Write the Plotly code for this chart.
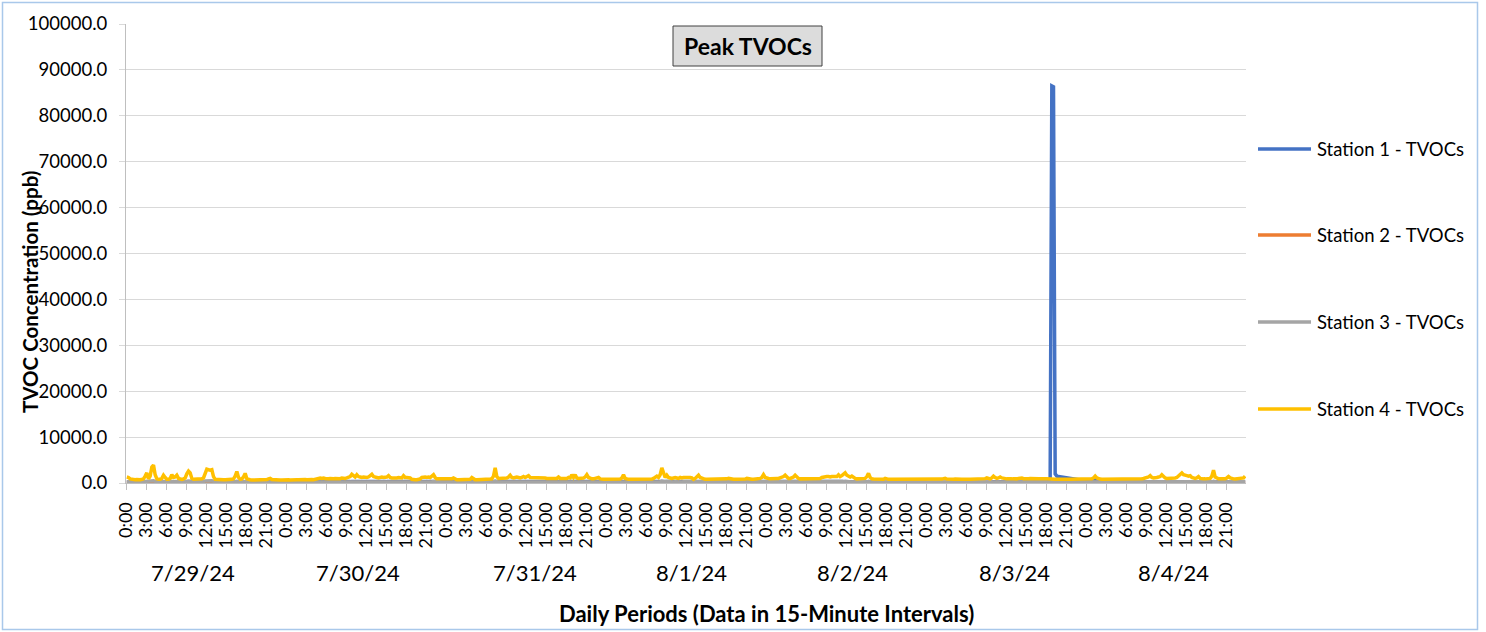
import plotly.graph_objects as go

# ---------------- data (ppb, 15-minute intervals, 96 per day) ----------------
dates = ["7/29/24", "7/30/24", "7/31/24", "8/1/24", "8/2/24", "8/3/24", "8/4/24"]
hour_labels = ["0:00", "3:00", "6:00", "9:00", "12:00", "15:00", "18:00", "21:00"]
series_names = ["Station 1 - TVOCs", "Station 2 - TVOCs", "Station 3 - TVOCs", "Station 4 - TVOCs"]

station1 = [
    200,200,150,150,200,200,150,150,200,200,250,250, 300,250,250,300,300,250,200,200,200,250,250,200,
    200,200,250,250,200,250,250,200,200,200,200,250, 250,300,300,250,200,200,200,200,200,200,250,300,
    300,300,300,300,250,200,200,150,150,150,200,200, 200,200,200,200,200,250,300,250,200,200,200,250,
    200,150,150,150,150,150,150,150,150,150,150,150, 150,150,150,200,200,150,150,150,150,150,150,150,
    150,150,150,150,150,150,150,150,150,150,150,150, 150,150,200,200,150,200,200,200,250,200,250,200,
    200,200,250,200,200,250,250,200,200,250,250,250, 250,250,300,350,350,350,400,400,450,450,450,500,
    500,450,450,500,500,450,450,400,400,400,350,350, 300,300,250,250,250,200,200,250,250,250,300,250,
    250,250,200,200,150,150,150,150,200,250,250,250, 250,250,250,250,300,250,200,200,200,200,200,200,
    200,200,200,200,200,150,150,150,150,150,150,150, 150,150,150,200,200,150,150,150,150,150,150,150,
    150,150,200,200,250,300,250,200,200,200,200,200, 200,200,250,200,200,200,200,200,200,200,250,200,
    200,250,200,200,200,200,200,200,200,200,200,200, 200,200,200,200,200,200,200,250,200,200,200,200,
    200,200,200,250,200,250,200,200,200,200,200,200, 250,200,200,200,200,200,200,200,200,150,150,150,
    150,150,150,150,150,150,150,150,150,200,250,200, 150,150,150,150,150,150,150,150,150,150,150,150,
    150,150,150,150,200,200,250,200,250,300,250,200, 250,200,200,200,200,200,200,200,200,200,200,200,
    200,200,200,200,150,200,200,250,200,150,150,150, 150,150,150,150,150,150,150,150,150,150,150,150,
    150,200,150,150,150,150,150,150,150,150,150,150, 200,150,150,150,150,150,150,150,200,200,250,200,
    200,200,200,200,200,200,200,200,200,200,200,250, 200,200,200,200,200,250,200,200,150,150,150,150,
    150,150,150,150,150,150,150,150,200,200,200,250, 250,250,250,250,250,250,250,300,250,250,300,350,
    300,250,250,250,200,200,150,150,150,150,150,200, 250,300,200,150,150,150,150,150,150,150,150,200,
    150,150,150,150,150,150,150,150,150,150,150,150, 150,150,150,150,150,150,150,150,150,150,150,150,
    100,100,50,100,150,150,150,150,150,150,150,200, 150,150,150,150,150,150,150,150,150,150,150,150,
    150,150,150,150,150,150,150,150,150,150,150,200, 200,200,200,200,250,200,200,200,250,200,200,200,
    200,200,200,200,200,200,200,200,200,200,200,200, 200,200,200,200,200,200,200,200,200,200,200,200,
    200,250,1200,86500,86300,2000,1500,1450,1400,1350,1300,1250, 1200,1150,1100,1050,1000,950,900,800,700,600,500,400,
    300,300,300,400,700,900,600,300,250,200,200,200, 200,200,200,200,200,200,200,200,200,200,200,200,
    200,200,200,200,200,200,200,200,200,200,200,200, 200,200,250,200,200,200,200,200,200,250,250,200,
    200,200,200,200,200,200,200,250,250,250,200,200, 200,200,200,200,200,200,200,200,200,200,200,200,
    200,200,200,250,300,200,200,200,200,200,200,200, 200,200,200,200,200,200,200,200,200,200,200,250,
]

station2 = [
    100,100,100,50,50,50,50,50,50,50,100,100, 100,100,100,150,150,100,100,100,100,100,100,100,
    100,100,100,100,100,100,100,100,50,50,50,50, 50,50,50,50,50,50,0,0,0,0,50,50,
    100,100,100,100,50,50,50,50,50,50,50,50, 50,50,50,50,100,100,100,100,100,100,100,100,
    50,50,50,50,50,50,50,50,50,50,50,50, 50,50,50,50,50,50,50,50,50,50,50,50,
    50,50,50,50,50,50,50,50,50,50,50,50, 50,50,50,50,50,100,100,100,100,100,100,100,
    100,100,100,100,100,100,100,100,100,100,100,100, 100,100,100,50,50,50,50,50,50,50,50,50,
    50,50,50,50,50,50,50,50,50,50,50,50, 100,100,100,100,100,100,100,100,100,100,100,100,
    100,100,50,50,50,50,50,50,50,100,100,100, 100,100,100,100,100,100,100,100,100,100,50,50,
    50,50,50,50,50,50,50,50,50,50,50,50, 50,50,50,50,50,50,50,50,50,50,50,50,
    50,50,100,100,100,150,100,100,100,100,100,100, 100,100,100,100,100,100,100,100,100,100,100,100,
    100,100,100,100,100,100,100,100,100,100,100,100, 100,100,100,100,100,100,100,100,100,100,100,100,
    100,100,100,100,100,100,100,100,100,100,100,100, 100,100,100,100,100,100,100,100,100,50,50,50,
    50,50,50,50,50,50,50,50,50,100,100,100, 50,50,50,50,50,50,50,50,50,50,50,50,
    50,50,50,50,100,100,150,100,100,150,100,100, 100,100,100,100,100,100,100,100,100,100,100,100,
    100,100,100,100,50,100,100,100,100,50,50,50, 50,50,50,50,50,50,50,50,50,50,50,50,
    50,50,50,50,50,50,50,50,50,50,50,50, 50,50,50,50,50,50,50,50,50,50,100,100,
    100,100,100,100,100,100,100,100,100,100,100,100, 100,100,100,100,100,100,100,100,50,50,50,50,
    50,50,50,50,50,50,50,50,100,100,100,100, 100,100,100,100,100,100,100,150,100,100,150,150,
    150,100,100,100,100,100,50,50,50,50,50,100, 100,100,100,50,50,50,50,50,50,50,50,50,
    50,50,50,50,50,50,50,50,50,50,50,50, 50,50,50,50,50,50,50,50,50,50,50,50,
    50,50,50,50,50,50,50,50,50,50,50,50, 50,50,50,50,50,50,50,50,50,50,50,50,
    50,50,50,50,50,50,50,50,50,50,50,100, 100,100,100,100,100,100,100,100,100,100,100,100,
    100,100,100,100,100,100,100,100,100,100,100,100, 100,100,100,100,100,100,100,100,100,100,100,100,
    100,100,100,100,100,100,100,100,100,100,100,100, 100,100,100,100,100,100,50,50,50,50,50,50,
    50,50,50,100,100,100,100,50,50,50,50,50, 50,50,50,50,50,50,50,50,50,50,50,50,
    50,50,50,50,50,50,50,50,50,50,50,50, 50,50,50,50,50,50,50,50,50,100,100,50,
    50,50,50,50,50,50,50,100,100,100,100,100, 100,100,100,100,100,100,100,100,100,100,100,100,
    100,100,100,100,150,100,100,100,100,100,100,100, 100,100,100,100,100,100,100,100,100,100,100,100,
]

station3 = [
    250,250,200,200,200,150,200,200,250,250,300,350, 400,300,350,450,500,350,250,250,250,300,350,300,
    250,250,300,400,300,300,350,300,250,250,250,300, 400,450,400,300,250,250,200,250,250,250,300,450,
    500,500,450,500,350,250,200,200,200,200,200,200, 200,200,250,250,250,300,400,300,250,250,300,350,
    250,200,200,200,150,150,200,200,150,150,200,200, 200,200,200,250,250,200,200,150,150,200,150,150,
    150,150,150,150,200,150,150,150,200,150,150,200, 150,200,200,150,200,200,250,250,250,250,250,250,
    200,250,250,200,250,250,250,200,200,250,250,250, 200,200,200,150,150,100,100,100,100,100,100,100,
    100,100,100,100,100,100,100,100,100,100,150,150, 200,250,200,200,200,200,200,250,200,200,250,200,
    200,200,200,150,150,150,150,150,200,250,250,250, 250,250,250,250,300,250,200,200,200,200,200,200,
    200,200,200,200,250,150,150,150,150,150,150,150, 150,150,150,250,200,150,150,150,150,150,150,150,
    150,150,200,200,250,400,250,200,200,200,250,200, 250,250,300,250,200,250,250,250,200,250,250,250,
    250,300,250,250,250,200,250,250,200,250,200,200, 200,200,200,200,200,200,200,250,200,200,200,200,
    200,250,200,300,250,300,200,250,200,200,200,200, 300,250,200,200,200,200,200,250,200,150,150,150,
    150,150,150,150,150,150,150,150,150,200,300,200, 150,150,150,150,150,150,150,150,150,150,150,150,
    150,150,150,150,200,200,250,200,250,400,300,250, 300,250,200,200,200,250,200,200,250,200,250,250,
    250,250,250,200,150,200,250,300,250,200,150,150, 150,150,150,150,150,150,150,150,150,150,150,150,
    150,200,150,150,150,150,150,150,150,150,150,150, 200,150,150,150,150,150,150,150,200,200,250,250,
    250,250,200,200,200,200,200,200,250,250,250,300, 250,200,200,200,250,300,250,200,150,150,150,150,
    150,150,150,150,150,150,150,150,200,200,200,250, 250,250,250,250,250,250,250,300,250,250,300,350,
    300,250,250,250,200,200,150,150,150,150,150,200, 250,350,250,150,150,150,150,150,150,150,150,200,
    150,150,150,150,150,150,150,150,150,150,150,150, 150,150,150,150,150,150,150,150,150,150,150,150,
    150,150,150,150,150,150,150,150,150,150,150,200, 150,150,150,150,150,150,150,150,150,150,150,150,
    150,150,150,150,150,150,150,150,150,150,200,200, 250,200,200,200,250,200,200,200,250,200,200,200,
    200,200,200,200,200,200,200,200,200,200,200,200, 200,200,200,200,200,200,200,200,200,200,200,200,
    200,200,200,200,200,200,200,200,200,200,200,200, 200,200,200,200,200,200,200,200,200,200,150,150,
    150,150,150,150,200,300,200,150,150,150,150,150, 150,150,150,150,150,150,150,150,150,150,150,150,
    150,150,150,150,150,150,150,150,150,150,200,200, 200,200,250,200,200,200,200,200,200,250,250,200,
    200,200,200,200,200,200,200,250,250,300,250,200, 200,200,250,250,250,200,200,200,200,200,200,200,
    200,200,200,250,350,200,200,200,200,200,200,200, 200,200,200,200,200,250,200,200,200,200,200,300,
]

station4 = [
    1300,1200,900,800,700,700,750,700,700,800,900,1500, 2200,900,1500,3500,3900,1800,900,800,800,1000,1700,1200,
    800,800,1000,1800,1200,1300,1700,1000,800,800,900,1100, 2000,2600,2200,1000,800,800,750,800,800,900,1100,2400,
    3000,2900,2800,2900,1400,800,750,700,700,750,700,700, 700,750,800,800,900,1500,2500,1200,800,900,1300,2100,
    900,700,700,650,650,700,700,650,650,700,700,700, 750,900,1000,750,700,650,650,700,650,650,700,700,
    700,700,650,700,750,700,700,700,750,700,700,750, 700,750,800,750,700,800,900,1000,1100,1000,1100,1000,
    900,950,1000,900,950,1000,1000,900,950,1100,1000,1000, 1100,1200,1400,1900,1500,1300,1800,1400,1300,1200,1300,1200,
    1200,1300,1500,1900,1400,1200,1200,1100,1200,1300,1200,1200, 1300,1600,1200,1100,1100,1000,1100,1200,1100,1100,1600,1200,
    1200,1200,1100,800,700,700,700,750,900,1200,1300,1300, 1200,1300,1200,1400,1800,1200,900,900,950,900,900,900,
    900,900,950,900,1100,800,700,700,700,700,700,700, 700,750,800,1200,900,700,700,700,700,750,700,700,
    750,800,850,900,1500,3300,1400,1000,1000,1100,1000,1000, 1100,1300,1700,1200,1100,1200,1300,1200,1100,1200,1400,1200,
    1300,1600,1200,1200,1200,1100,1200,1200,1100,1200,1100,1100, 1000,1000,1000,1000,1100,1000,1000,1300,1000,1000,1000,1100,
    1000,1200,1100,1800,1200,1800,1100,1000,1000,1000,1100,1300, 1800,1200,1000,900,900,1000,1000,1200,900,800,800,800,
    800,800,800,800,800,850,800,800,850,1100,1800,1000, 850,800,800,800,800,750,800,800,800,800,800,800,
    800,800,800,850,1000,1200,1500,1200,1800,3300,2000,1200, 1700,1200,1100,1000,1100,1200,1100,1000,1200,1100,1200,1200,
    1200,1300,1200,1100,800,1000,1300,1700,1200,1000,900,800, 800,800,850,800,800,800,800,800,850,800,800,850,
    900,1000,900,800,800,800,800,850,800,800,800,850, 1000,900,800,800,800,850,800,900,1000,1200,1800,1200,
    1000,1000,950,1000,1000,950,1000,1000,1100,1200,1400,1700, 1200,1000,1000,1100,1300,1700,1200,1000,900,900,900,850,
    900,900,850,900,900,950,900,900,1000,1200,1300,1400, 1400,1400,1300,1400,1400,1500,1400,1800,1400,1600,1800,2200,
    1700,1400,1300,1500,1200,1000,900,900,900,900,900,1000, 1400,2100,1200,900,850,850,800,800,850,800,800,1000,
    850,800,800,800,800,800,750,800,800,800,850,800, 800,800,800,850,800,800,800,800,850,800,800,800,
    800,800,800,850,800,800,800,850,800,850,950,1000, 850,800,800,800,800,850,800,800,800,800,800,850,
    800,800,800,800,850,800,800,800,850,800,900,950, 1100,1000,900,1100,1500,1200,1000,1100,1300,1100,1000,950,
    900,900,850,900,950,900,900,1000,1100,1100,950,900, 900,950,1000,950,900,900,850,900,900,850,900,900,
    900,850,800,800,800,800,800,850,800,800,800,750, 800,800,800,800,850,800,800,800,750,800,800,800,
    800,800,850,900,1100,1500,1100,900,850,800,800,800, 800,850,800,800,800,800,850,800,800,800,850,800,
    800,800,850,900,850,800,800,850,900,950,1000,1100, 1200,1300,1600,1200,1100,1100,1200,1300,1400,1800,1400,1100,
    1000,1000,1100,1000,1000,1100,1200,1500,1800,2200,1800,1600, 1600,1500,1600,1200,1100,1000,1100,1400,1000,900,900,900,
    900,950,1000,1500,2800,1300,1000,900,900,900,950,900, 1100,1400,1100,900,900,850,900,900,950,1000,1100,1500,
]

series_values = [station1, station2, station3, station4]
series_colors = ["#4472C4", "#ED7D31", "#A5A5A5", "#FFC000"]

# ---------------- layout geometry (pixels) ----------------
W, H = 1486, 632
PL, PR, PT, PB = 126, 1246, 24, 483   # plot area edges


def px(xp):
    return (xp - PL) / (PR - PL)


def py(yp):
    return (PB - yp) / (PB - PT)


FONT = "Lato"
n = len(station4)
per_day = n // len(dates)
step = per_day // len(hour_labels)
x_idx = list(range(n))

fig = go.Figure()
for name, vals, col in zip(series_names, series_values, series_colors):
    fig.add_trace(go.Scatter(
        x=x_idx[:len(vals)], y=vals, mode="lines", name=name,
        line=dict(color=col, width=3.5), showlegend=False,
        hoverinfo="skip",
    ))

tickvals = [k * step - 0.5 for k in range(len(dates) * len(hour_labels))]
ticktext = [hour_labels[k % len(hour_labels)] for k in range(len(tickvals))]

annotations = []
# date group labels (positions as drawn in the source chart)
date_label_px = [193, 358, 535, 691, 852, 1014, 1173]
for lab, xp in zip(dates, date_label_px):
    annotations.append(dict(
        x=px(xp), xref="paper", y=py(572), yref="paper",
        text=lab, showarrow=False, xanchor="center", yanchor="middle",
        font=dict(family=FONT, size=22, color="#000000"),
    ))
# axis titles
annotations.append(dict(
    x=px(766), y=py(613), xref="paper", yref="paper",
    text="<b>Daily Periods (Data in 15-Minute Intervals)</b>", showarrow=False,
    xanchor="center", yanchor="middle",
    font=dict(family=FONT, size=22, color="#000000"),
))
annotations.append(dict(
    x=px(30), y=py(292), xref="paper", yref="paper",
    text="<b>TVOC Concentration (ppb)</b>", showarrow=False, textangle=-90,
    xanchor="center", yanchor="middle",
    font=dict(family=FONT, size=20.5, color="#000000"),
))
# chart title
annotations.append(dict(
    x=px(747.5), y=py(46), xref="paper", yref="paper",
    text="<b>Peak TVOCs</b>", showarrow=False, xanchor="center", yanchor="middle",
    font=dict(family=FONT, size=23, color="#000000"),
))

shapes = []
# outer chart border
shapes.append(dict(type="rect", xref="paper", yref="paper",
                   x0=px(2.5), x1=px(1477.5), y0=py(629.5), y1=py(2.5),
                   line=dict(color="#A9C8EA", width=1.5), fillcolor="rgba(0,0,0,0)", layer="below"))
# title box
shapes.append(dict(type="rect", xref="paper", yref="paper",
                   x0=px(673), x1=px(822), y0=py(66), y1=py(26),
                   line=dict(color="#404040", width=1), fillcolor="#DCDCDC", layer="above"))

# custom legend
legend_y = [149, 235, 322, 409]
for name, col, ly in zip(series_names, series_colors, legend_y):
    shapes.append(dict(type="line", xref="paper", yref="paper",
                       x0=px(1258), x1=px(1311), y0=py(ly), y1=py(ly),
                       line=dict(color=col, width=3.5)))
    annotations.append(dict(
        x=px(1315), y=py(ly), xref="paper", yref="paper", text=name,
        showarrow=False, xanchor="left", yanchor="middle",
        font=dict(family=FONT, size=18.5, color="#000000"),
    ))

fig.update_layout(
    template="none",
    width=W, height=H,
    margin=dict(l=PL, r=W - PR, t=PT, b=H - PB, pad=0),
    paper_bgcolor="#FFFFFF", plot_bgcolor="#FFFFFF",
    showlegend=False,
    annotations=annotations,
    shapes=shapes,
    xaxis=dict(
        range=[-0.5, n - 0.5], tickmode="array", tickvals=tickvals, ticktext=ticktext,
        tickangle=-90, ticks="outside", ticklen=6, tickcolor="#BFBFBF", tickwidth=1,
        showgrid=False, showline=True, linecolor="#BFBFBF", linewidth=1,
        zeroline=False, automargin=False, ticklabelstandoff=5,
        tickfont=dict(family=FONT, size=18, color="#000000"),
    ),
    yaxis=dict(
        range=[0, 100000], tickmode="array",
        tickvals=[k * 10000 for k in range(11)], tickformat=".1f",
        ticks="outside", ticklen=6, tickcolor="#D9D9D9", tickwidth=1,
        showgrid=True, gridcolor="#D9D9D9", gridwidth=1,
        showline=True, linecolor="#BFBFBF", linewidth=1,
        zeroline=False, automargin=False, ticklabelstandoff=8,
        tickfont=dict(family=FONT, size=18.5, color="#000000"),
    ),
)

fig.write_html("out.html", config={"displayModeBar": False},
               post_script="document.body.style.margin='0px';")
